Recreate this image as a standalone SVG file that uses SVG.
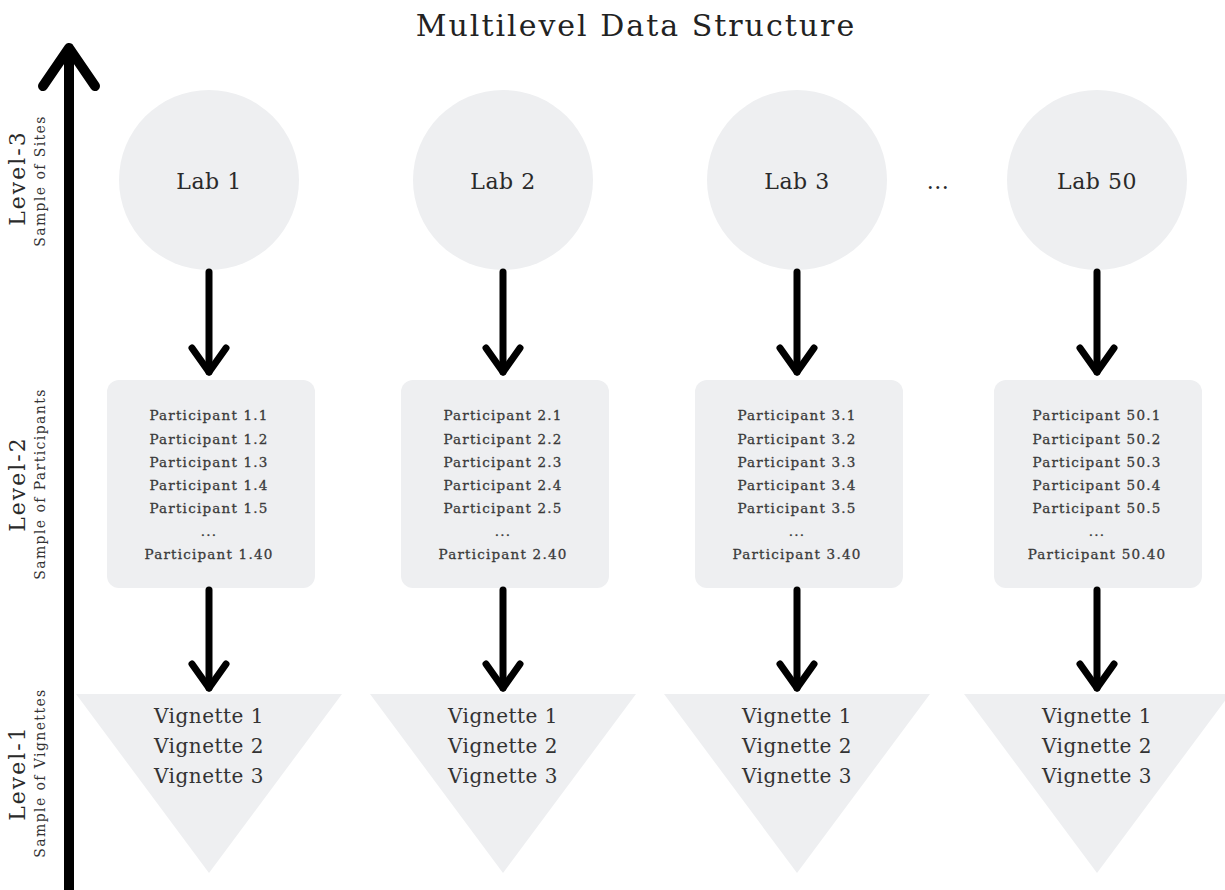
<svg xmlns="http://www.w3.org/2000/svg" width="1225" height="890" viewBox="0 0 1225 890">
<style>
text{font-family:"DejaVu Serif","Liberation Serif",serif;fill:#2a2a2a;text-anchor:middle}
.title{font-size:30px;letter-spacing:2px;fill:#222}
.lab{font-size:22px;letter-spacing:0.5px}
.part{font-size:13.5px;letter-spacing:1.2px;fill:#3a3a3a;stroke:#3a3a3a;stroke-width:0.3px}
.vig{font-size:20px;letter-spacing:0.5px;fill:#333}
.lvl{font-size:22px;letter-spacing:2px}
.sub{font-size:14px;letter-spacing:1.4px;fill:#333}
.shape{fill:#eeeff1}
.conn{fill:none;stroke:#000;stroke-width:7;stroke-linecap:round;stroke-linejoin:round}
.axis{fill:none;stroke:#000;stroke-width:10;stroke-linecap:round;stroke-linejoin:round}
</style>
<defs>
<marker id="chev" markerUnits="userSpaceOnUse" markerWidth="60" markerHeight="60" viewBox="-30 -30 60 60" refX="0" refY="0" orient="auto" overflow="visible">
<path d="M-24,-17 L0,0 L-24,17" fill="none" stroke="#000" stroke-width="7" stroke-linecap="round" stroke-linejoin="round"/>
</marker>
</defs>
<rect width="1225" height="890" fill="#fff"/>
<text class="title" x="636" y="36">Multilevel Data Structure</text>
<g id="axis">
<path class="axis" d="M69,890 V50"/>
<path class="axis" d="M43,86 L69,48 L95,86"/>
<text class="lvl" transform="translate(25,178) rotate(-90)">Level-3</text>
<text class="sub" transform="translate(45,181) rotate(-90)">Sample of Sites</text>
<text class="lvl" transform="translate(25,484) rotate(-90)">Level-2</text>
<text class="sub" transform="translate(45,484) rotate(-90)">Sample of Participants</text>
<text class="lvl" transform="translate(25,773) rotate(-90)">Level-1</text>
<text class="sub" transform="translate(45,773) rotate(-90)">Sample of Vignettes</text>
</g>
<g id="lab1"><circle class="shape" cx="209" cy="180" r="90"/><text class="lab" x="209" y="189">Lab 1</text></g>
<g id="lab2"><circle class="shape" cx="503" cy="180" r="90"/><text class="lab" x="503" y="189">Lab 2</text></g>
<g id="lab3"><circle class="shape" cx="797" cy="180" r="90"/><text class="lab" x="797" y="189">Lab 3</text></g>
<g id="ellipsis"><text class="lab" x="938" y="189">...</text></g>
<g id="lab50"><circle class="shape" cx="1097" cy="180" r="90"/><text class="lab" x="1097" y="189">Lab 50</text></g>
<g id="participants1"><rect class="shape" x="107" y="380" width="208" height="208" rx="12"/>
<text class="part" x="209" y="420">Participant 1.1</text><text class="part" x="209" y="444">Participant 1.2</text><text class="part" x="209" y="467">Participant 1.3</text><text class="part" x="209" y="490">Participant 1.4</text><text class="part" x="209" y="513">Participant 1.5</text><text class="part" x="209" y="536">...</text><text class="part" x="209" y="559">Participant 1.40</text></g>
<g id="participants2"><rect class="shape" x="401" y="380" width="208" height="208" rx="12"/>
<text class="part" x="503" y="420">Participant 2.1</text><text class="part" x="503" y="444">Participant 2.2</text><text class="part" x="503" y="467">Participant 2.3</text><text class="part" x="503" y="490">Participant 2.4</text><text class="part" x="503" y="513">Participant 2.5</text><text class="part" x="503" y="536">...</text><text class="part" x="503" y="559">Participant 2.40</text></g>
<g id="participants3"><rect class="shape" x="695" y="380" width="208" height="208" rx="12"/>
<text class="part" x="797" y="420">Participant 3.1</text><text class="part" x="797" y="444">Participant 3.2</text><text class="part" x="797" y="467">Participant 3.3</text><text class="part" x="797" y="490">Participant 3.4</text><text class="part" x="797" y="513">Participant 3.5</text><text class="part" x="797" y="536">...</text><text class="part" x="797" y="559">Participant 3.40</text></g>
<g id="participants50"><rect class="shape" x="994" y="380" width="208" height="208" rx="12"/>
<text class="part" x="1097" y="420">Participant 50.1</text><text class="part" x="1097" y="444">Participant 50.2</text><text class="part" x="1097" y="467">Participant 50.3</text><text class="part" x="1097" y="490">Participant 50.4</text><text class="part" x="1097" y="513">Participant 50.5</text><text class="part" x="1097" y="536">...</text><text class="part" x="1097" y="559">Participant 50.40</text></g>
<g id="vignettes1"><polygon class="shape" points="76,694 342,694 209,873"/>
<text class="vig" x="209" y="723">Vignette 1</text><text class="vig" x="209" y="753">Vignette 2</text><text class="vig" x="209" y="783">Vignette 3</text></g>
<g id="vignettes2"><polygon class="shape" points="370,694 636,694 503,873"/>
<text class="vig" x="503" y="723">Vignette 1</text><text class="vig" x="503" y="753">Vignette 2</text><text class="vig" x="503" y="783">Vignette 3</text></g>
<g id="vignettes3"><polygon class="shape" points="664,694 930,694 797,873"/>
<text class="vig" x="797" y="723">Vignette 1</text><text class="vig" x="797" y="753">Vignette 2</text><text class="vig" x="797" y="783">Vignette 3</text></g>
<g id="vignettes50"><polygon class="shape" points="964,694 1230,694 1097,873"/>
<text class="vig" x="1097" y="723">Vignette 1</text><text class="vig" x="1097" y="753">Vignette 2</text><text class="vig" x="1097" y="783">Vignette 3</text></g>
<g id="connectors">
<path class="conn" d="M209,272 V372" marker-end="url(#chev)"/>
<path class="conn" d="M503,272 V372" marker-end="url(#chev)"/>
<path class="conn" d="M797,272 V372" marker-end="url(#chev)"/>
<path class="conn" d="M1097,272 V372" marker-end="url(#chev)"/>
<path class="conn" d="M209,590 V688" marker-end="url(#chev)"/>
<path class="conn" d="M503,590 V688" marker-end="url(#chev)"/>
<path class="conn" d="M797,590 V688" marker-end="url(#chev)"/>
<path class="conn" d="M1097,590 V688" marker-end="url(#chev)"/>
</g>
</svg>
